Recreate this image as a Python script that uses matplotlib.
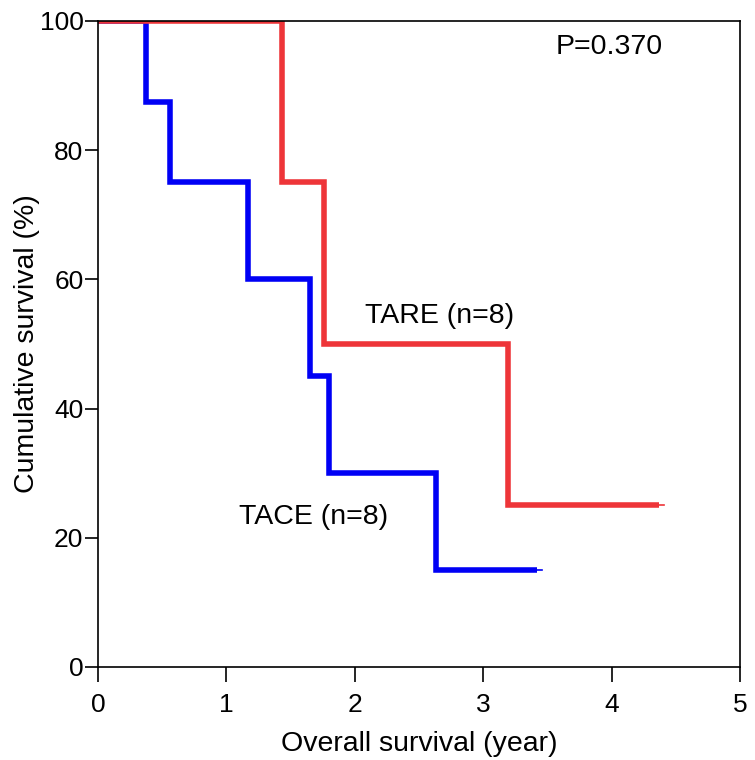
import matplotlib.pyplot as plt
import numpy as np

plt.rcParams['font.family'] = ['Liberation Sans', 'DejaVu Sans']

# Kaplan-Meier step data (years, % survival)
tace_t = [0, 0.37, 0.56, 1.17, 1.65, 1.80, 2.63]
tace_s = [100, 87.5, 75, 60, 45, 30, 15]
tace_end = 3.42

tare_t = [0, 1.43, 1.76, 3.19]
tare_s = [100, 75, 50, 25]
tare_end = 4.37

xticks = [0, 1, 2, 3, 4, 5]
yticks = [0, 20, 40, 60, 80, 100]


def km(ax, t, s, end, color):
    x = np.append(t, end)
    y = np.append(s, s[-1])
    ax.step(x, y, where='post', color=color, lw=4, solid_capstyle='butt',
            solid_joinstyle='miter')
    # censor tick
    ax.plot([end, end + 0.04], [s[-1], s[-1]], color=color, lw=1.2)


fig = plt.figure(figsize=(7.55, 7.6), dpi=100)
ax = fig.add_axes([0.1298, 0.1224, 0.8506, 0.85])

km(ax, tace_t, tace_s, tace_end, '#0000f5')
km(ax, tare_t, tare_s, tare_end, '#ee3539')

ax.set_xlim(0, 5)
ax.set_ylim(0, 100)
ax.set_xticks(xticks)
ax.set_yticks(yticks)
ax.tick_params(labelsize=19, width=1.2, direction='out')
ax.tick_params(axis='x', length=11, pad=8)
ax.tick_params(axis='y', length=9.5, pad=1)
for sp in ax.spines.values():
    sp.set_linewidth(1.2)

ax.set_xlabel('Overall survival (year)', fontsize=20.5, labelpad=10)
ax.set_ylabel('Cumulative survival (%)', fontsize=20.5, labelpad=0)

ax.text(3.56, 96, 'P=0.370', fontsize=20.5, va='center')
ax.text(2.08, 54.3, 'TARE (n=8)', fontsize=20.5, va='center')
ax.text(1.1, 23.2, 'TACE (n=8)', fontsize=20.5, va='center')

plt.savefig('out.png', dpi=100)
